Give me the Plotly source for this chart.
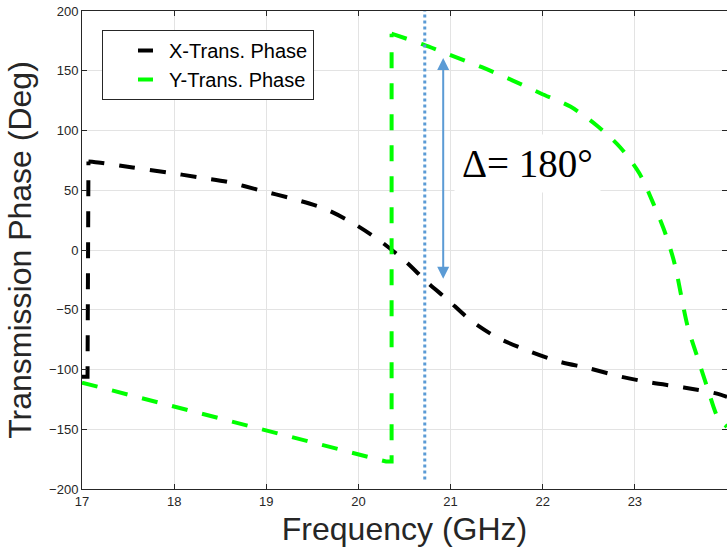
import plotly.graph_objects as go

# ---- data ----
x_freq = [17.0, 17.06, 17.07, 17.2, 17.55, 17.92, 18.25, 18.58, 18.93, 19.28, 19.62, 19.93,
          20.21, 20.49, 20.76, 20.96, 21.22, 21.5, 21.83, 22.16, 22.5, 22.85, 23.18, 23.53,
          23.88, 24.0]
x_phase = [-106, -106, 74, 73, 69, 65, 61, 57, 50, 43, 35, 23,
           9, -8, -28, -41, -59, -73, -84, -93, -99, -106, -111, -115,
           -120, -123]

y_freq = [17.0, 18.0, 19.0, 20.0, 20.3, 20.36, 20.36, 20.4, 20.7, 21.0, 21.34, 21.67,
          21.98, 22.30, 22.59, 22.84, 23.05, 23.20, 23.33, 23.43, 23.57, 23.68,
          23.79, 23.9, 24.0]
y_phase = [-111, -131, -151, -171, -177, -177, 181, 180, 172, 163, 153, 142,
           131, 120, 104, 86, 64, 39, 14, -11, -63, -90,
           -116, -140, -148]

# index where the vertical phase jump ends (smooth part starts there)
x_jump_end = 2
y_jump_end = 6

marker_freq = 20.72          # dotted vertical marker
marker_range = [-192, 200]
arrow_freq = 20.92           # delta arrow
arrow_top = 162
arrow_bottom = -24
delta_label = "Δ= 180°"
delta_pos = (21.83, 72)

series_names = ["X-Trans. Phase", "Y-Trans. Phase"]
series_colors = ["black", "#00ff00"]

x_ticks = [17, 18, 19, 20, 21, 22, 23, 24]
y_ticks = [-200, -150, -100, -50, 0, 50, 100, 150, 200]

TXT = "#262626"
BLUE = "#5b9bd5"
FONT = "Liberation Sans, Arial, sans-serif"
DASH = "16px,15px"

fig = go.Figure()
for xs, ys, col, j in [(x_freq, x_phase, series_colors[0], x_jump_end),
                       (y_freq, y_phase, series_colors[1], y_jump_end)]:
    # part up to and including the vertical jump: straight segments
    fig.add_trace(go.Scatter(x=xs[:j + 1], y=ys[:j + 1], mode="lines", showlegend=False,
                             line=dict(color=col, width=4, dash=DASH)))
    # smooth curve after the jump
    fig.add_trace(go.Scatter(x=xs[j:], y=ys[j:], mode="lines", showlegend=False,
                             line=dict(color=col, width=4, dash=DASH, shape="spline", smoothing=0.8)))
# legend entries (short dash sample as in the reference)
for name, col in zip(series_names, series_colors):
    fig.add_trace(go.Scatter(x=[None], y=[None], mode="lines", name=name,
                             line=dict(color=col, width=4, dash="0px,30px,15px,300px")))

fig.add_trace(go.Scatter(x=[marker_freq, marker_freq], y=marker_range, mode="lines",
                         showlegend=False, line=dict(color=BLUE, width=3, dash="dot")))

fig.add_annotation(x=arrow_freq, y=arrow_bottom, ax=arrow_freq, ay=arrow_top,
                   xref="x", yref="y", axref="x", ayref="y", text="",
                   showarrow=True, arrowside="end+start", arrowhead=2, arrowsize=1.2,
                   arrowwidth=2, arrowcolor=BLUE)
fig.add_annotation(x=delta_pos[0], y=delta_pos[1], xref="x", yref="y", text=delta_label,
                   showarrow=False, bgcolor="white", borderpad=7,
                   font=dict(family="Liberation Serif, DejaVu Serif, serif", size=39, color="black"))

axis_common = dict(showline=True, linecolor=TXT, linewidth=1, mirror="ticks",
                   ticks="inside", ticklen=5, tickcolor=TXT, showgrid=True,
                   gridcolor="#e3e3e3", gridwidth=1, zeroline=False,
                   tickfont=dict(family=FONT, size=13, color=TXT))

fig.update_xaxes(range=[17, 24], tickvals=x_ticks,
                 title=dict(text="Frequency (GHz)", font=dict(family=FONT, size=32, color=TXT), standoff=10),
                 **axis_common)
fig.update_yaxes(range=[-200, 200], tickvals=y_ticks,
                 title=dict(text="Transmission Phase (Deg)", font=dict(family=FONT, size=32, color=TXT), standoff=7),
                 **axis_common)

fig.update_layout(width=727, height=556, margin=dict(l=82, r=0, t=11, b=67, autoexpand=False),
                  plot_bgcolor="white", paper_bgcolor="white",
                  legend=dict(x=0.031, y=0.960, xanchor="left", yanchor="top",
                              bgcolor="white", bordercolor=TXT, borderwidth=1,
                              font=dict(family=FONT, size=20, color="black"),
                              itemwidth=56, entrywidth=250, entrywidthmode="pixels"))

fig.write_html("out.html")
